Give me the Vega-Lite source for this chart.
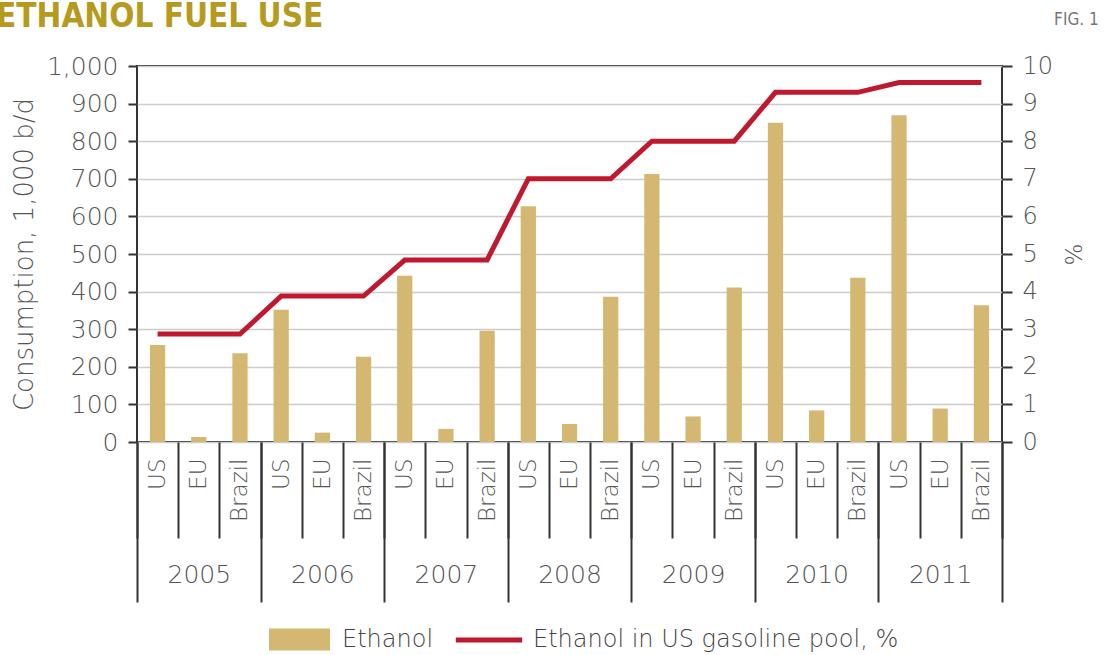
{
  "$schema": "https://vega.github.io/schema/vega-lite/v6.json",
  "autosize": {"type": "none"},
  "width": 865,
  "height": 376,
  "padding": {"left": 137, "top": 66, "right": 105, "bottom": 213},
  "background": "white",
  "title": {
    "text": "ETHANOL FUEL USE",
    "anchor": "start",
    "frame": "group",
    "offset": 0,
    "dx": -141,
    "dy": 49,
    "baseline": "alphabetic",
    "font": "Liberation Sans Narrow, DejaVu Sans Condensed, Roboto Condensed, Roboto",
    "fontSize": 33,
    "fontWeight": "bold",
    "color": "#b59a1e"
  },
  "datasets": {
    "fuel": [
      {"year": "2005", "region": "US", "cat": "2005|US", "value": 258, "pct": 2.87},
      {"year": "2005", "region": "EU", "cat": "2005|EU", "value": 13, "pct": 2.87},
      {"year": "2005", "region": "Brazil", "cat": "2005|Brazil", "value": 236, "pct": 2.87},
      {"year": "2006", "region": "US", "cat": "2006|US", "value": 352, "pct": 3.88},
      {"year": "2006", "region": "EU", "cat": "2006|EU", "value": 25, "pct": 3.88},
      {"year": "2006", "region": "Brazil", "cat": "2006|Brazil", "value": 227, "pct": 3.88},
      {"year": "2007", "region": "US", "cat": "2007|US", "value": 442, "pct": 4.84},
      {"year": "2007", "region": "EU", "cat": "2007|EU", "value": 35, "pct": 4.84},
      {"year": "2007", "region": "Brazil", "cat": "2007|Brazil", "value": 296, "pct": 4.84},
      {"year": "2008", "region": "US", "cat": "2008|US", "value": 627, "pct": 7.0},
      {"year": "2008", "region": "EU", "cat": "2008|EU", "value": 48, "pct": 7.0},
      {"year": "2008", "region": "Brazil", "cat": "2008|Brazil", "value": 386, "pct": 7.0},
      {"year": "2009", "region": "US", "cat": "2009|US", "value": 713, "pct": 8.0},
      {"year": "2009", "region": "EU", "cat": "2009|EU", "value": 68, "pct": 8.0},
      {"year": "2009", "region": "Brazil", "cat": "2009|Brazil", "value": 411, "pct": 8.0},
      {"year": "2010", "region": "US", "cat": "2010|US", "value": 849, "pct": 9.3},
      {"year": "2010", "region": "EU", "cat": "2010|EU", "value": 84, "pct": 9.3},
      {"year": "2010", "region": "Brazil", "cat": "2010|Brazil", "value": 437, "pct": 9.3},
      {"year": "2011", "region": "US", "cat": "2011|US", "value": 869, "pct": 9.56},
      {"year": "2011", "region": "EU", "cat": "2011|EU", "value": 89, "pct": 9.56},
      {"year": "2011", "region": "Brazil", "cat": "2011|Brazil", "value": 364, "pct": 9.56}
    ],
    "note": [
      {"cat": "2011|Brazil", "pct": 10, "label": "FIG. 1"}
    ]
  },
  "config": {
    "view": {"stroke": "#333333", "strokeWidth": 2},
    "axis": {
      "labelFont": "DejaVu Sans",
      "labelFontWeight": 200,
      "labelColor": "#555555",
      "titleFont": "DejaVu Sans",
      "titleFontWeight": 200,
      "titleColor": "#555555",
      "tickColor": "#333333",
      "tickWidth": 2,
      "domain": false
    },
    "legend": {
      "labelFont": "DejaVu Sans",
      "labelFontSize": 24,
      "labelFontWeight": 200,
      "labelColor": "#444444",
      "labelLimit": 0,
      "padding": 0
    }
  },
  "resolve": {
    "scale": {"x": "independent", "y": "independent", "fill": "independent", "stroke": "independent"},
    "axis": {"x": "independent", "y": "independent"}
  },
  "layer": [
    {
      "data": {"name": "fuel"},
      "mark": {"type": "bar", "opacity": 0},
      "encoding": {
        "x": {
          "field": "year",
          "type": "nominal",
          "sort": null,
          "scale": {"type": "band", "paddingInner": 0, "paddingOuter": 0},
          "axis": {
            "orient": "bottom",
            "title": null,
            "tickBand": "extent",
            "tickSize": 160,
            "labelPadding": -28,
            "labelBaseline": "middle",
            "labelFontSize": 25,
            "labelAngle": 0,
            "grid": false
          }
        }
      }
    },
    {
      "data": {"name": "fuel"},
      "mark": {"type": "bar", "opacity": 0},
      "encoding": {
        "x": {
          "field": "cat",
          "type": "nominal",
          "sort": null,
          "scale": {"type": "band", "paddingInner": 0, "paddingOuter": 0},
          "axis": {
            "orient": "bottom",
            "title": null,
            "tickBand": "extent",
            "tickSize": 96,
            "labelAngle": 270,
            "labelAlign": "right",
            "labelBaseline": "middle",
            "labelPadding": -80,
            "labelFontSize": 23,
            "labelExpr": "split(datum.value, '|')[1]",
            "labelOverlap": false,
            "grid": false
          }
        }
      }
    },
    {
      "data": {"name": "fuel"},
      "mark": {"type": "bar", "color": "#d4b872"},
      "encoding": {
        "x": {
          "field": "cat",
          "type": "nominal",
          "sort": null,
          "scale": {"type": "band", "paddingInner": 0.63, "paddingOuter": 0.315},
          "axis": null
        },
        "y": {
          "field": "value",
          "type": "quantitative",
          "scale": {"domain": [0, 1000], "nice": false},
          "axis": {
            "orient": "left",
            "title": "Consumption, 1,000 b/d",
            "titleFontSize": 26,
            "titleX": -100,
            "titleBaseline": "bottom",
            "values": [0, 100, 200, 300, 400, 500, 600, 700, 800, 900, 1000],
            "format": ",d",
            "labelFontSize": 25,
            "labelPadding": 10,
            "tickSize": 9,
            "grid": true,
            "gridColor": "#cccccc",
            "gridWidth": 1.5
          }
        },
        "fill": {
          "datum": "Ethanol",
          "type": "nominal",
          "scale": {"range": ["#d4b872"]},
          "legend": {
            "title": null,
            "orient": "none",
            "legendX": 132,
            "legendY": 543,
            "symbolType": "M-1,-0.36H1V0.36H-1Z",
            "symbolSize": 3721,
            "symbolStrokeWidth": 0,
            "symbolOpacity": 1,
            "labelOffset": 12
          }
        }
      }
    },
    {
      "data": {"name": "fuel"},
      "mark": {"type": "line", "strokeWidth": 5, "color": "#c0182e"},
      "encoding": {
        "x": {
          "field": "cat",
          "type": "nominal",
          "sort": null,
          "scale": {"type": "band", "paddingInner": 0.63, "paddingOuter": 0.315},
          "axis": null
        },
        "y": {
          "field": "pct",
          "type": "quantitative",
          "scale": {"domain": [0, 10], "nice": false},
          "axis": {
            "orient": "right",
            "title": "%",
            "titleAngle": 270,
            "titleFontSize": 23,
            "titlePadding": 34,
            "values": [0, 1, 2, 3, 4, 5, 6, 7, 8, 9, 10],
            "labelFontSize": 24,
            "labelPadding": 10,
            "tickSize": 10,
            "grid": false
          }
        },
        "stroke": {
          "datum": "Ethanol in US gasoline pool, %",
          "type": "nominal",
          "scale": {"range": ["#c0182e"]},
          "legend": {
            "title": null,
            "orient": "none",
            "legendX": 316,
            "legendY": 538,
            "symbolType": "stroke",
            "symbolSize": 4400,
            "symbolStrokeWidth": 5,
            "labelOffset": 8
          }
        }
      }
    },
    {
      "data": {"name": "note"},
      "mark": {
        "type": "text",
        "dx": 95,
        "dy": -46,
        "align": "center",
        "font": "Liberation Sans Narrow, DejaVu Sans Condensed, Roboto Condensed, Roboto",
        "fontSize": 17,
        "color": "#777777"
      },
      "encoding": {
        "x": {
          "field": "cat",
          "type": "nominal",
          "scale": {
            "type": "band",
            "domain": ["2005|US","2005|EU","2005|Brazil","2006|US","2006|EU","2006|Brazil","2007|US","2007|EU","2007|Brazil","2008|US","2008|EU","2008|Brazil","2009|US","2009|EU","2009|Brazil","2010|US","2010|EU","2010|Brazil","2011|US","2011|EU","2011|Brazil"],
            "paddingInner": 0.63,
            "paddingOuter": 0.315
          },
          "axis": null
        },
        "y": {
          "field": "pct",
          "type": "quantitative",
          "scale": {"domain": [0, 10], "nice": false},
          "axis": null
        },
        "text": {"field": "label"}
      }
    }
  ]
}
